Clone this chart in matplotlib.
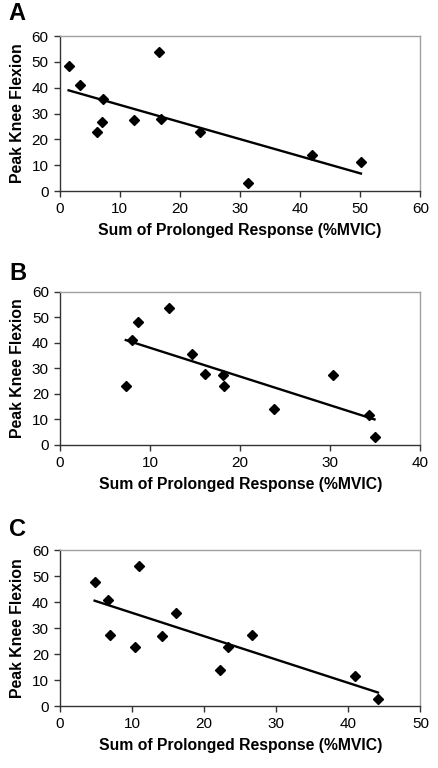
import numpy as np
import matplotlib.pyplot as plt

plt.rcParams['font.family'] = ['Liberation Sans', 'DejaVu Sans']

# Peak knee flexion values (same subjects in each panel)
flex_a = [48.4, 41.0, 35.6, 22.8, 26.7, 27.5, 53.9, 27.7, 22.8, 3.0, 14.1, 11.4]
prolonged_a = [1.5, 3.4, 7.3, 6.2, 7.1, 12.4, 16.6, 16.9, 23.4, 31.4, 42.0, 50.1]

flex_b = [23.1, 41.1, 48.2, 53.8, 35.8, 27.6, 27.3, 23.1, 14.0, 27.5, 11.8, 3.1]
prolonged_b = [7.3, 8.0, 8.7, 12.1, 14.7, 16.1, 18.1, 18.2, 23.8, 30.3, 34.3, 34.9]

flex_c = [47.9, 41.0, 27.4, 22.9, 54.1, 26.9, 35.8, 13.9, 22.9, 27.4, 11.7, 2.7]
prolonged_c = [4.8, 6.6, 6.9, 10.4, 10.9, 14.1, 16.1, 22.2, 23.3, 26.7, 40.9, 44.1]

panels = [
    ('A', prolonged_a, flex_a, 60, [0.136, 0.7513, 0.824, 0.2018], 1.148),
    ('B', prolonged_b, flex_b, 40, [0.137, 0.421, 0.823, 0.1988], 1.124),
    ('C', prolonged_c, flex_c, 50, [0.137, 0.0807, 0.823, 0.2027], 1.137),
]

fig = plt.figure(figsize=(4.38, 7.68), dpi=100)

for label, xs, ys, xmax, rect, label_y in panels:
    ax = fig.add_axes(rect)
    xs = np.array(xs)
    ys = np.array(ys)
    ax.plot(xs, ys, linestyle='none', marker='D', markersize=5,
            color='black', zorder=3)

    # linear trendline over the data range
    slope, intercept = np.polyfit(xs, ys, 1)
    xfit = np.array([xs.min(), xs.max()])
    ax.plot(xfit, slope * xfit + intercept, color='black', linewidth=1.7, zorder=2)

    ax.set_xlim(0, xmax)
    ax.set_ylim(0, 60)
    ax.set_xticks(np.arange(0, xmax + 1, 10))
    ax.set_yticks(np.arange(0, 61, 10))

    for side in ['top', 'right']:
        ax.spines[side].set_color('#a0a0a0')
        ax.spines[side].set_linewidth(1.0)
    for side in ['left', 'bottom']:
        ax.spines[side].set_color('#333333')
        ax.spines[side].set_linewidth(1.0)

    ax.tick_params(direction='out', length=4, width=1.0, color='#333333',
                   labelsize=11, pad=4)

    ax.set_xlabel('Sum of Prolonged Response (%MVIC)', fontsize=11.3,
                  fontweight='bold', labelpad=5)
    ax.set_ylabel('Peak Knee Flexion', fontsize=11.4, fontweight='bold', labelpad=5)
    ax.text(-0.118, label_y, label, transform=ax.transAxes, fontsize=17,
            fontweight='bold', ha='center', va='center')

fig.savefig('out.png', dpi=100)
